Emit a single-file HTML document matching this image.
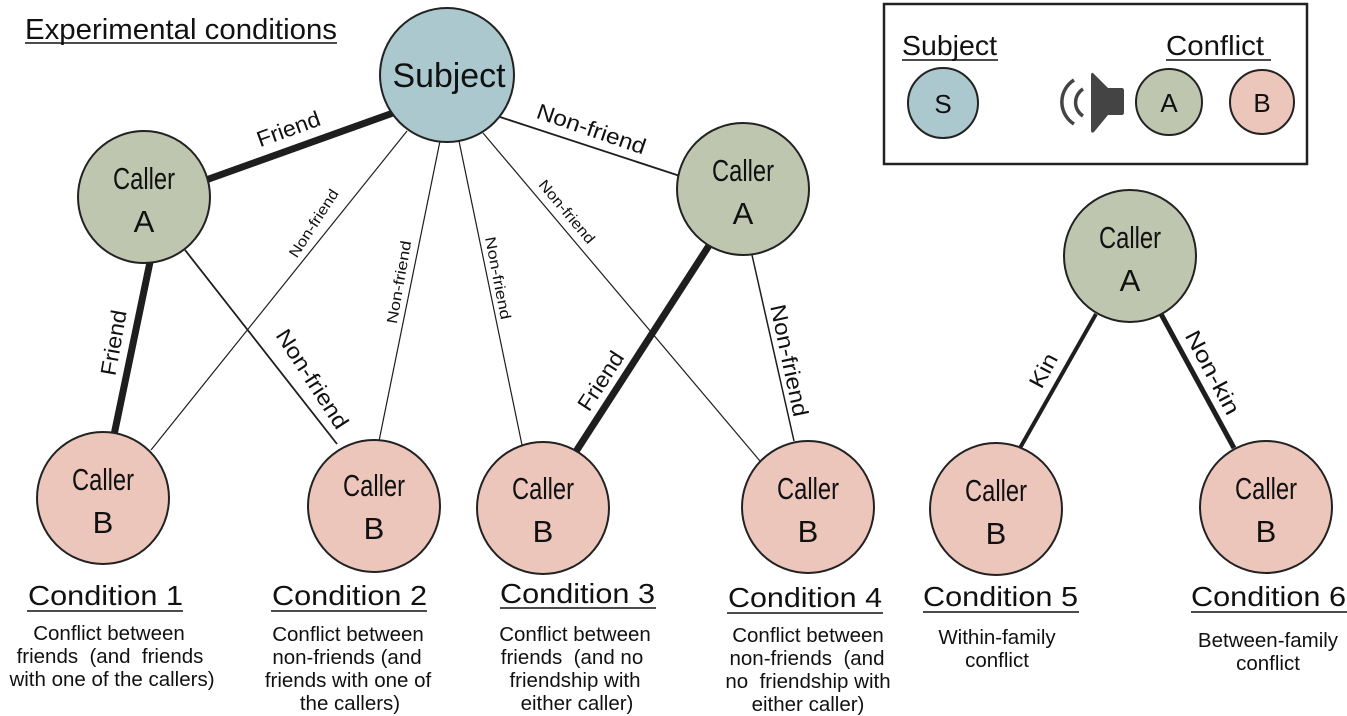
<!DOCTYPE html>
<html><head><meta charset="utf-8"><style>
html,body{margin:0;padding:0;background:#fff;}
svg{display:block;}
text{font-family:"Liberation Sans",sans-serif;fill:#111;}
</style></head><body>
<svg width="1347" height="716" viewBox="0 0 1347 716" xmlns="http://www.w3.org/2000/svg">
<text x="25" y="39" font-size="29" textLength="312" lengthAdjust="spacingAndGlyphs">Experimental conditions</text>
<line x1="25" y1="43" x2="337" y2="43" stroke="#111" stroke-width="1.6"/>

<rect x="884" y="4" width="423" height="160" fill="none" stroke="#222" stroke-width="2.5"/>
<text x="902" y="55" font-size="28" textLength="95" lengthAdjust="spacingAndGlyphs">Subject</text>
<line x1="902" y1="60" x2="998" y2="60" stroke="#111" stroke-width="1.6"/>
<text x="1166" y="55" font-size="28" textLength="98" lengthAdjust="spacingAndGlyphs">Conflict</text>
<line x1="1166" y1="60" x2="1271" y2="60" stroke="#111" stroke-width="1.6"/>
<circle cx="943" cy="103" r="35" fill="#abc8cf" stroke="#222" stroke-width="2"/>
<text x="943" y="113" font-size="26" text-anchor="middle">S</text>
<circle cx="1169" cy="102" r="33" fill="#bec6af" stroke="#222" stroke-width="2"/>
<text x="1169" y="112" font-size="26" text-anchor="middle">A</text>
<circle cx="1262" cy="102" r="32" fill="#ecc5bb" stroke="#222" stroke-width="2"/>
<text x="1262" y="112" font-size="26" text-anchor="middle">B</text>
<path d="M1093 73 Q1091 72 1091 76 L1091 130 Q1091 134 1094 132 L1108 115 L1122 115 Q1124 115 1124 112 L1124 91 Q1124 88 1122 88 L1108 88 Z" fill="#444"/>
<path d="M1074 80 A26 26 0 0 0 1074 124" fill="none" stroke="#444" stroke-width="3.5"/>
<path d="M1083 89 A16 16 0 0 0 1083 116" fill="none" stroke="#444" stroke-width="3.5"/>

<g stroke="#1e1e1e" fill="none" stroke-linecap="butt">
<line x1="393" y1="113" x2="206" y2="180" stroke-width="7"/>
<line x1="500" y1="117" x2="680" y2="176" stroke-width="1.8"/>
<line x1="407" y1="131" x2="151" y2="450" stroke-width="1.2"/>
<line x1="440" y1="141" x2="379" y2="441" stroke-width="1.2"/>
<line x1="459" y1="141" x2="522" y2="445" stroke-width="1.2"/>
<line x1="483" y1="133" x2="760" y2="461" stroke-width="1.2"/>
<line x1="150" y1="262" x2="114" y2="435" stroke-width="7"/>
<line x1="185" y1="250" x2="337" y2="444" stroke-width="1.8"/>
<line x1="710" y1="244" x2="575" y2="453" stroke-width="7"/>
<line x1="752" y1="255" x2="794" y2="441" stroke-width="1.5"/>
<line x1="1096" y1="314" x2="1020" y2="448" stroke-width="4"/>
<line x1="1161" y1="314" x2="1234" y2="448" stroke-width="5"/>
</g>

<text font-size="22" text-anchor="middle" transform="translate(291,136) rotate(-20)" textLength="66" lengthAdjust="spacingAndGlyphs">Friend</text>
<text font-size="22" text-anchor="middle" transform="translate(589,136) rotate(19)" textLength="114" lengthAdjust="spacingAndGlyphs">Non-friend</text>
<text font-size="22" text-anchor="middle" transform="translate(121,344) rotate(-80)" textLength="66" lengthAdjust="spacingAndGlyphs">Friend</text>
<text font-size="22" text-anchor="middle" transform="translate(306,383) rotate(57)" textLength="114" lengthAdjust="spacingAndGlyphs">Non-friend</text>
<text font-size="22" text-anchor="middle" transform="translate(607,385) rotate(-57)" textLength="66" lengthAdjust="spacingAndGlyphs">Friend</text>
<text font-size="22" text-anchor="middle" transform="translate(782,362) rotate(78)" textLength="114" lengthAdjust="spacingAndGlyphs">Non-friend</text>
<text font-size="22" text-anchor="middle" transform="translate(1050,374) rotate(-62)" textLength="36" lengthAdjust="spacingAndGlyphs">Kin</text>
<text font-size="22" text-anchor="middle" transform="translate(1206,376) rotate(62)" textLength="92" lengthAdjust="spacingAndGlyphs">Non-kin</text>
<text font-size="15" text-anchor="middle" transform="translate(318,226) rotate(-57)" textLength="78" lengthAdjust="spacingAndGlyphs">Non-friend</text>
<text font-size="15" text-anchor="middle" transform="translate(404,283) rotate(-80)" textLength="84" lengthAdjust="spacingAndGlyphs">Non-friend</text>
<text font-size="15" text-anchor="middle" transform="translate(493,279) rotate(79)" textLength="84" lengthAdjust="spacingAndGlyphs">Non-friend</text>
<text font-size="15" text-anchor="middle" transform="translate(563,215) rotate(50)" textLength="78" lengthAdjust="spacingAndGlyphs">Non-friend</text>

<g stroke="#222" stroke-width="2">
<circle cx="447" cy="75" r="67" fill="#abc8cf"/>
<circle cx="144" cy="197" r="66" fill="#bec6af"/>
<circle cx="743" cy="189" r="66" fill="#bec6af"/>
<circle cx="1130" cy="256" r="66" fill="#bec6af"/>
<circle cx="103" cy="498" r="66" fill="#ecc5bb"/>
<circle cx="374" cy="506" r="66" fill="#ecc5bb"/>
<circle cx="543" cy="508" r="66" fill="#ecc5bb"/>
<circle cx="808" cy="507" r="66" fill="#ecc5bb"/>
<circle cx="996" cy="509" r="66" fill="#ecc5bb"/>
<circle cx="1266" cy="507" r="66" fill="#ecc5bb"/>
</g>
<text x="449" y="87" font-size="34" text-anchor="middle" textLength="113" lengthAdjust="spacingAndGlyphs">Subject</text>
<g font-size="31" text-anchor="middle">
<text x="144" y="189" textLength="62" lengthAdjust="spacingAndGlyphs">Caller</text><text x="144" y="232">A</text>
<text x="743" y="181" textLength="62" lengthAdjust="spacingAndGlyphs">Caller</text><text x="743" y="224">A</text>
<text x="1130" y="248" textLength="62" lengthAdjust="spacingAndGlyphs">Caller</text><text x="1130" y="291">A</text>
<text x="103" y="490" textLength="62" lengthAdjust="spacingAndGlyphs">Caller</text><text x="103" y="533">B</text>
<text x="374" y="496" textLength="62" lengthAdjust="spacingAndGlyphs">Caller</text><text x="374" y="539">B</text>
<text x="543" y="499" textLength="62" lengthAdjust="spacingAndGlyphs">Caller</text><text x="543" y="542">B</text>
<text x="808" y="499" textLength="62" lengthAdjust="spacingAndGlyphs">Caller</text><text x="808" y="542">B</text>
<text x="996" y="501" textLength="62" lengthAdjust="spacingAndGlyphs">Caller</text><text x="996" y="544">B</text>
<text x="1266" y="499" textLength="62" lengthAdjust="spacingAndGlyphs">Caller</text><text x="1266" y="542">B</text>
</g>

<g font-size="28">
<text x="28" y="605" textLength="155" lengthAdjust="spacingAndGlyphs">Condition 1</text>
<text x="272" y="605" textLength="155" lengthAdjust="spacingAndGlyphs">Condition 2</text>
<text x="500" y="603" textLength="155" lengthAdjust="spacingAndGlyphs">Condition 3</text>
<text x="728" y="607" textLength="154" lengthAdjust="spacingAndGlyphs">Condition 4</text>
<text x="923" y="606" textLength="155" lengthAdjust="spacingAndGlyphs">Condition 5</text>
<text x="1191" y="606" textLength="155" lengthAdjust="spacingAndGlyphs">Condition 6</text>
</g>
<g stroke="#111" stroke-width="1.6">
<line x1="27" y1="611" x2="183" y2="611"/>
<line x1="271" y1="611" x2="427" y2="611"/>
<line x1="500" y1="608" x2="656" y2="608"/>
<line x1="727" y1="613" x2="883" y2="613"/>
<line x1="923" y1="612" x2="1079" y2="612"/>
<line x1="1191" y1="612" x2="1347" y2="612"/>
</g>

<g font-size="20.5" text-anchor="middle">
<text x="109" y="640">Conflict between</text>
<text x="110" y="663" xml:space="preserve">friends  (and  friends</text>
<text x="112" y="686">with one of the callers)</text>

<text x="348" y="641">Conflict between</text>
<text x="347" y="664">non-friends (and</text>
<text x="348" y="687">friends with one of</text>
<text x="350" y="710">the callers)</text>

<text x="575" y="641">Conflict between</text>
<text x="572" y="664" xml:space="preserve">friends  (and no</text>
<text x="575" y="687">friendship with</text>
<text x="577" y="710">either caller)</text>

<text x="808" y="642">Conflict between</text>
<text x="807" y="665" xml:space="preserve">non-friends  (and</text>
<text x="808" y="688" xml:space="preserve">no  friendship with</text>
<text x="808" y="711">either caller)</text>

<text x="997" y="644">Within-family</text>
<text x="997" y="667">conflict</text>

<text x="1268" y="647">Between-family</text>
<text x="1268" y="670">conflict</text>
</g>
</svg>
</body></html>
